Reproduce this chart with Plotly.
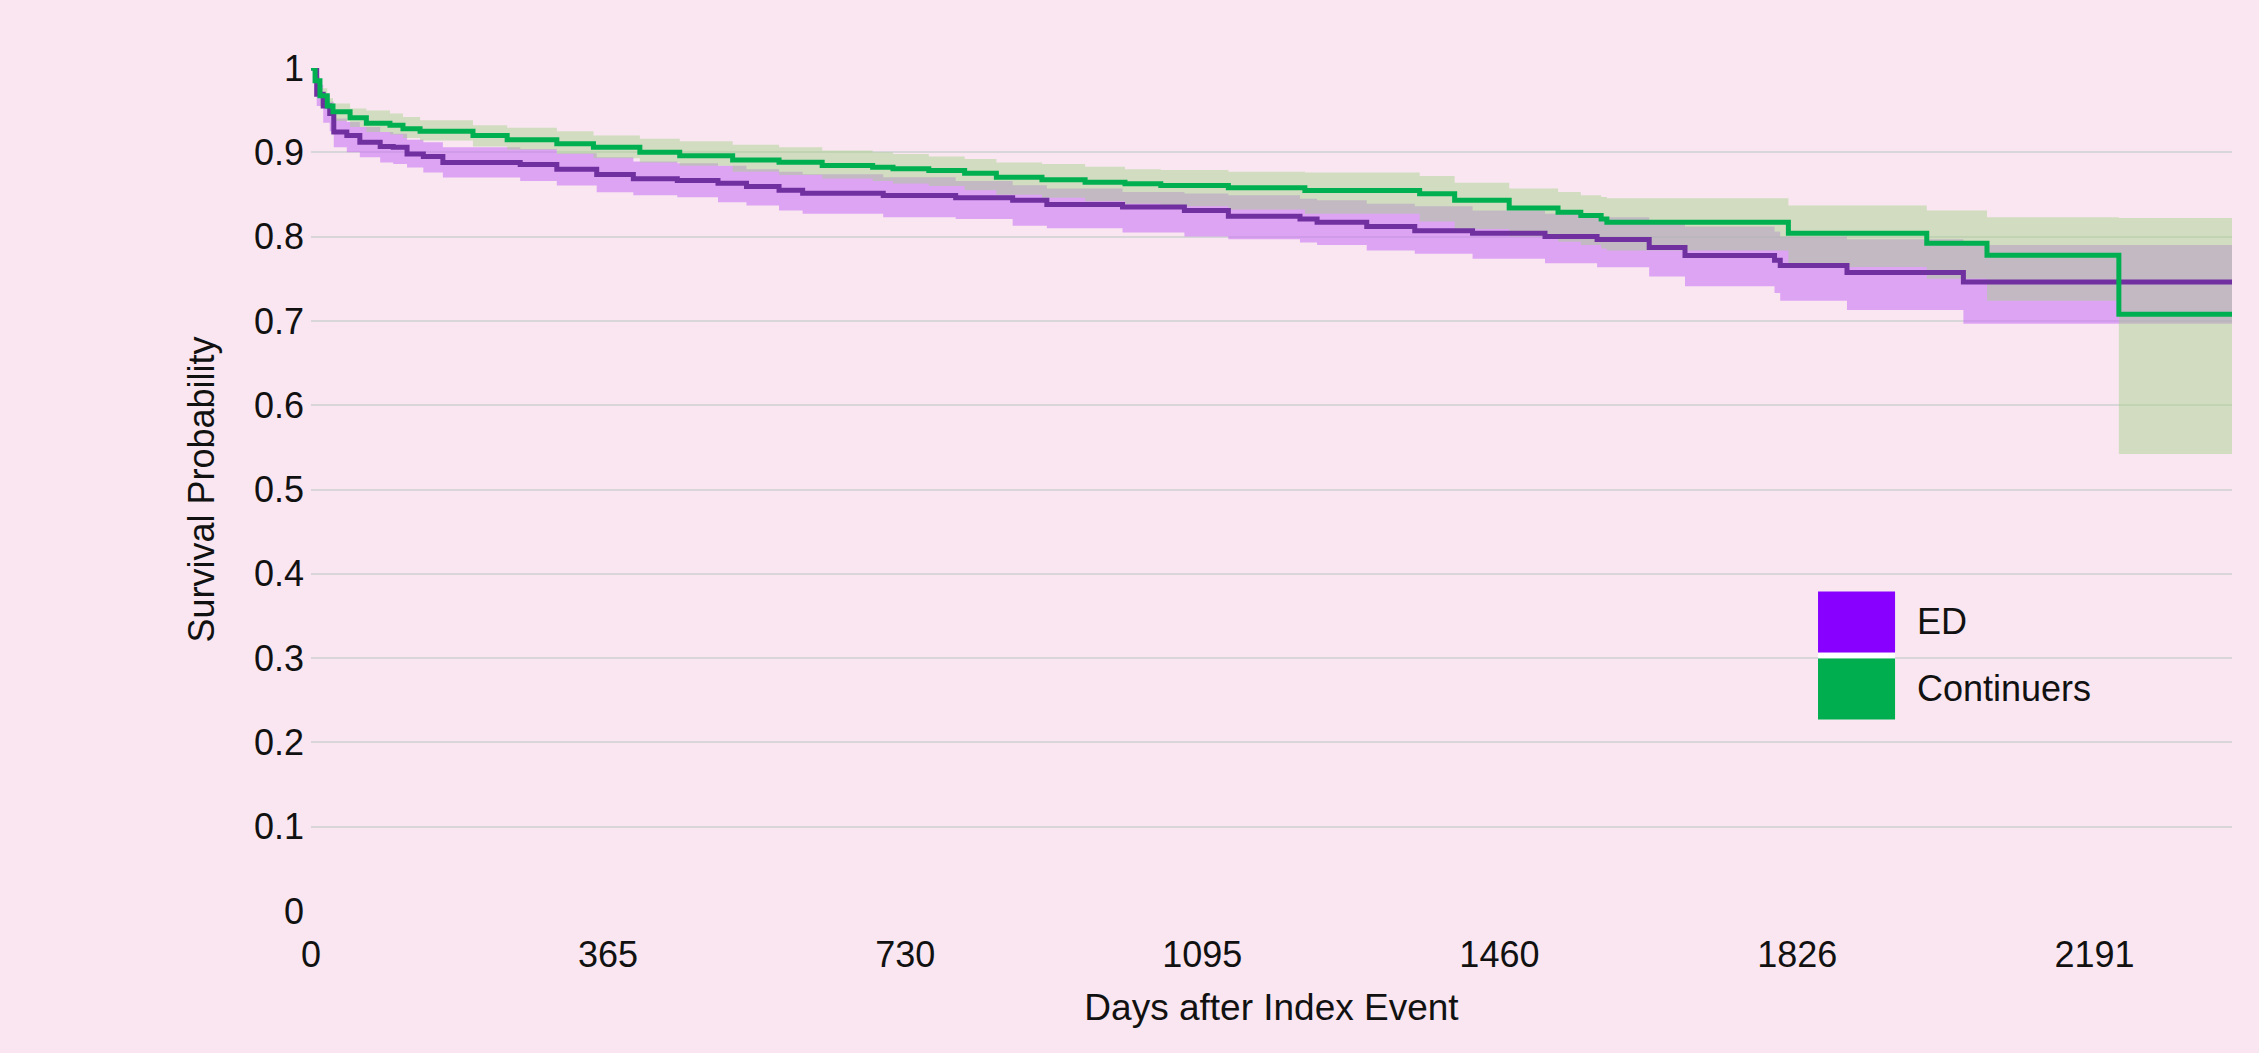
import plotly.graph_objects as go

# ---------------- data ----------------
ed_days = [0, 7, 15, 23, 28, 44, 60, 85, 101, 118, 138, 162, 257, 302, 351, 396, 450, 500,
           535, 575, 604, 703, 792, 862, 904, 997, 1073, 1127, 1215, 1236, 1297, 1356, 1427,
           1516, 1580, 1644, 1688, 1798, 1805, 1887, 2030, 2360]
ed_surv = [1.0, 0.969, 0.955, 0.946, 0.924, 0.920, 0.912, 0.907, 0.906, 0.898, 0.895, 0.888,
           0.8855, 0.880, 0.8737, 0.8685, 0.8666, 0.8634, 0.8594, 0.855, 0.8515, 0.8488, 0.846,
           0.843, 0.838, 0.835, 0.831, 0.824, 0.821, 0.817, 0.812, 0.807, 0.804, 0.800, 0.7966,
           0.787, 0.7776, 0.772, 0.7657, 0.7574, 0.746, 0.746]
ed_lower = [1.0, 0.955, 0.935, 0.925, 0.906, 0.900, 0.894, 0.888, 0.886, 0.882, 0.876, 0.870,
            0.866, 0.8606, 0.8527, 0.849, 0.8467, 0.8408, 0.837, 0.831, 0.827, 0.823, 0.821,
            0.813, 0.810, 0.805, 0.800, 0.797, 0.793, 0.790, 0.7835, 0.7796, 0.7736, 0.7685,
            0.7637, 0.7527, 0.741, 0.733, 0.724, 0.713, 0.6966, 0.6966]
ed_upper = [1.0, 0.980, 0.968, 0.960, 0.940, 0.936, 0.930, 0.924, 0.922, 0.915, 0.912, 0.906,
            0.904, 0.899, 0.894, 0.889, 0.887, 0.884, 0.880, 0.877, 0.874, 0.8705, 0.866, 0.861,
            0.857, 0.853, 0.851, 0.849, 0.845, 0.843, 0.839, 0.836, 0.831, 0.827, 0.823, 0.816,
            0.812, 0.806, 0.800, 0.797, 0.790, 0.790]

co_days = [0, 5, 11, 20, 27, 48, 68, 97, 113, 134, 199, 241, 302, 347, 404, 453, 518, 575,
           628, 690, 715, 759, 803, 842, 898, 951, 1000, 1044, 1127, 1221, 1362, 1405, 1472,
           1532, 1560, 1585, 1592, 1815, 1985, 2059, 2221, 2360]
co_surv = [1.0, 0.985, 0.967, 0.955, 0.948, 0.941, 0.9346, 0.932, 0.928, 0.925, 0.920, 0.915,
           0.910, 0.906, 0.900, 0.896, 0.891, 0.8883, 0.8843, 0.8824, 0.8804, 0.8784, 0.8752,
           0.8705, 0.8674, 0.8645, 0.8626, 0.8606, 0.8579, 0.8547, 0.8507, 0.843, 0.834, 0.829,
           0.825, 0.821, 0.817, 0.804, 0.792, 0.778, 0.708, 0.708]
co_lower = [1.0, 0.978, 0.955, 0.943, 0.937, 0.930, 0.924, 0.921, 0.917, 0.914, 0.907, 0.903,
            0.898, 0.893, 0.888, 0.884, 0.877, 0.873, 0.869, 0.866, 0.863, 0.860, 0.855, 0.8496,
            0.846, 0.842, 0.839, 0.836, 0.832, 0.827, 0.818, 0.809, 0.800, 0.794, 0.790, 0.786,
            0.7835, 0.764, 0.750, 0.724, 0.542, 0.542]
co_upper = [1.0, 0.990, 0.976, 0.964, 0.958, 0.952, 0.9496, 0.946, 0.942, 0.938, 0.932, 0.929,
            0.925, 0.920, 0.916, 0.913, 0.909, 0.906, 0.902, 0.900, 0.898, 0.895, 0.892, 0.888,
            0.886, 0.883, 0.880, 0.879, 0.877, 0.876, 0.872, 0.864, 0.857, 0.853, 0.849, 0.847,
            0.8456, 0.837, 0.831, 0.823, 0.822, 0.822]

series_names = ["ED", "Continuers"]
x_tickvals = [0, 365, 730, 1095, 1460, 1826, 2191]
x_title = "Days after Index Event"
y_title = "Survival Probability"

# ---------------- styles ----------------
BG = "#F9E6F0"
FONT = "Liberation Sans, Arial, sans-serif"
ED_LINE = "#7030A0"
ED_FILL = "rgba(200,110,248,0.55)"
CO_LINE = "#00B050"
CO_FILL = "rgba(166,208,140,0.48)"
LEG_ED = "#8800FF"
LEG_CO = "#00AD4F"

fig = go.Figure()

# confidence ribbons
fig.add_trace(go.Scatter(x=ed_days, y=ed_lower, mode="lines", line=dict(width=0, shape="hv"),
                         showlegend=False, hoverinfo="skip"))
fig.add_trace(go.Scatter(x=ed_days, y=ed_upper, mode="lines", line=dict(width=0, shape="hv"),
                         fill="tonexty", fillcolor=ED_FILL, showlegend=False, hoverinfo="skip"))
fig.add_trace(go.Scatter(x=co_days, y=co_lower, mode="lines", line=dict(width=0, shape="hv"),
                         showlegend=False, hoverinfo="skip"))
fig.add_trace(go.Scatter(x=co_days, y=co_upper, mode="lines", line=dict(width=0, shape="hv"),
                         fill="tonexty", fillcolor=CO_FILL, showlegend=False, hoverinfo="skip"))

# survival curves
fig.add_trace(go.Scatter(x=ed_days, y=ed_surv, mode="lines", name=series_names[0],
                         line=dict(color=ED_LINE, width=5, shape="hv"), showlegend=False))
fig.add_trace(go.Scatter(x=co_days, y=co_surv, mode="lines", name=series_names[1],
                         line=dict(color=CO_LINE, width=5, shape="hv"), showlegend=False))

# custom legend (large colour swatches)
sw_x0, sw_x1 = 0.7845, 0.8246
legend_items = [(series_names[0], LEG_ED, 0.3791, 0.3067),
                (series_names[1], LEG_CO, 0.2996, 0.2272)]
shapes = [dict(type="rect", xref="paper", yref="paper", x0=sw_x0, x1=sw_x1,
               y0=0.2996, y1=0.3067, fillcolor="white", line=dict(width=0), layer="above")]
annotations = []
for name, col, top, bot in legend_items:
    shapes.append(dict(type="rect", xref="paper", yref="paper", x0=sw_x0, x1=sw_x1,
                       y0=bot, y1=top, fillcolor=col, line=dict(width=0), layer="above"))
    annotations.append(dict(x=0.835, y=(top + bot) / 2, xref="paper", yref="paper",
                            text=name, showarrow=False, xanchor="left", yanchor="middle",
                            font=dict(family=FONT, size=36, color="#111111")))

fig.update_layout(
    width=2259, height=1053,
    paper_bgcolor=BG, plot_bgcolor="rgba(0,0,0,0)",
    margin=dict(l=311, r=27, t=68, b=142),
    font=dict(family=FONT, size=36, color="#111111"),
    shapes=shapes, annotations=annotations,
    showlegend=False,
)
fig.update_xaxes(range=[0, 2360], tickvals=x_tickvals, showgrid=False, zeroline=False,
                 showline=False, ticks="", tickfont=dict(size=36), ticklabelstandoff=19,
                 title=dict(text=x_title, font=dict(size=37), standoff=20))
fig.update_yaxes(range=[0, 1], dtick=0.1, showgrid=True, gridcolor="#D9D6D9", gridwidth=2,
                 zeroline=False, showline=False, ticks="", tickfont=dict(size=36),
                 ticklabelstandoff=6,
                 title=dict(text=y_title, font=dict(size=36), standoff=28))

fig.write_html(
    "out.html",
    config={"displayModeBar": False},
    post_script="document.body.style.margin='0';document.body.style.overflow='hidden';",
)
